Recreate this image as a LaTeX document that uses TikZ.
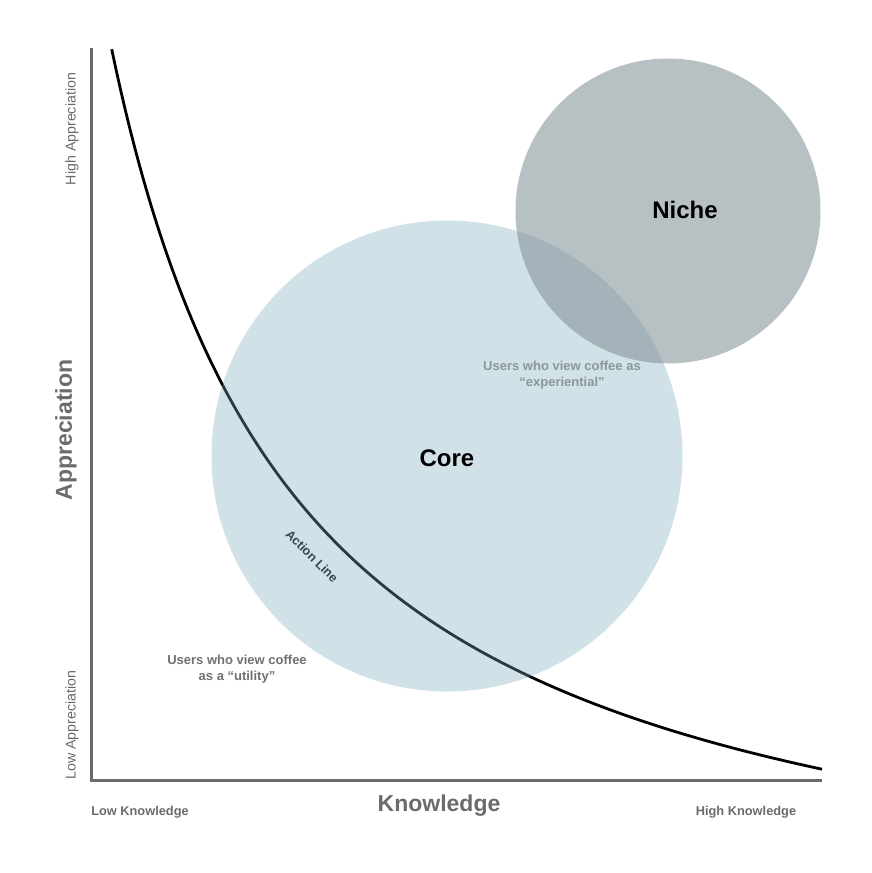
\documentclass[tikz,border=0pt]{standalone}
\usepackage{fontspec}
\setmainfont{Liberation Sans}
\definecolor{axisgray}{HTML}{6A6A6A}
\definecolor{labelgray}{HTML}{6B6B6B}
\definecolor{expgray}{HTML}{8A979C}
\definecolor{utilgray}{HTML}{707070}
\definecolor{actiontext}{HTML}{37474F}
\definecolor{corecol}{RGB}{120,168,185}
\definecolor{nichecol}{RGB}{135,150,155}
\begin{document}
\begin{tikzpicture}[x=1pt,y=-1pt,
  axisline/.style={draw=axisgray,line width=3pt},
  actionline/.style={draw=black,line width=2.8pt},
  corecircle/.style={circle,fill=corecol,fill opacity=0.35,draw=none,minimum size=471pt,inner sep=0pt},
  nichecircle/.style={circle,fill=nichecol,fill opacity=0.6,draw=none,minimum size=305pt,inner sep=0pt},
  bigtitle/.style={font=\bfseries\fontsize{24}{28}\selectfont,text=black},
  axistitle/.style={font=\bfseries\fontsize{23}{27}\selectfont,text=labelgray},
  endlabel/.style={font=\bfseries\fontsize{12.8}{15}\selectfont,text=labelgray},
  sidelabel/.style={font=\fontsize{14.2}{17}\selectfont,text=labelgray},
  note/.style={font=\bfseries\fontsize{13}{16}\selectfont,align=center,inner sep=0pt}
]
\useasboundingbox (0,0) rectangle (872,873);
% axes
\coordinate (ytop) at (91,48);
\coordinate (origin) at (91,780);
\coordinate (xend) at (822,780);
\draw[axisline] (ytop) -- (origin) -- (xend);
% action line curve
\draw[actionline] plot[domain=111.7:822,samples=160,variable=\x] (\x,{962.5-1741.65/((\x+79)/100)});
% circles
\node[corecircle] (core) at (447,456) {};
\node[nichecircle] (niche) at (668,211) {};
% titles
\node[bigtitle] (corelabel) at (447,458) {Core};
\node[bigtitle] (nichelabel) at (685,210) {Niche};
% axis titles
\node[axistitle] (xtitle) at (439,806) {Knowledge};
\node[axistitle,rotate=90] (ytitle) at (66,430) {Appreciation};
\node[endlabel] (lowk) at (140,812) {Low Knowledge};
\node[endlabel] (highk) at (746,812) {High Knowledge};
\node[sidelabel,rotate=90] (higha) at (72,129) {High Appreciation};
\node[sidelabel,rotate=90] (lowa) at (72,725) {Low Appreciation};
% notes
\node[note,text=expgray] (exp) at (562,375) {Users who view coffee as\\“experiential”};
\node[note,text=utilgray] (util) at (237,669) {Users who view coffee\\as a “utility”};
\node[font=\bfseries\fontsize{12.5}{15}\selectfont,text=actiontext,rotate=-45,inner sep=0pt] (actlabel) at (312,556) {Action Line};
\end{tikzpicture}
\end{document}
